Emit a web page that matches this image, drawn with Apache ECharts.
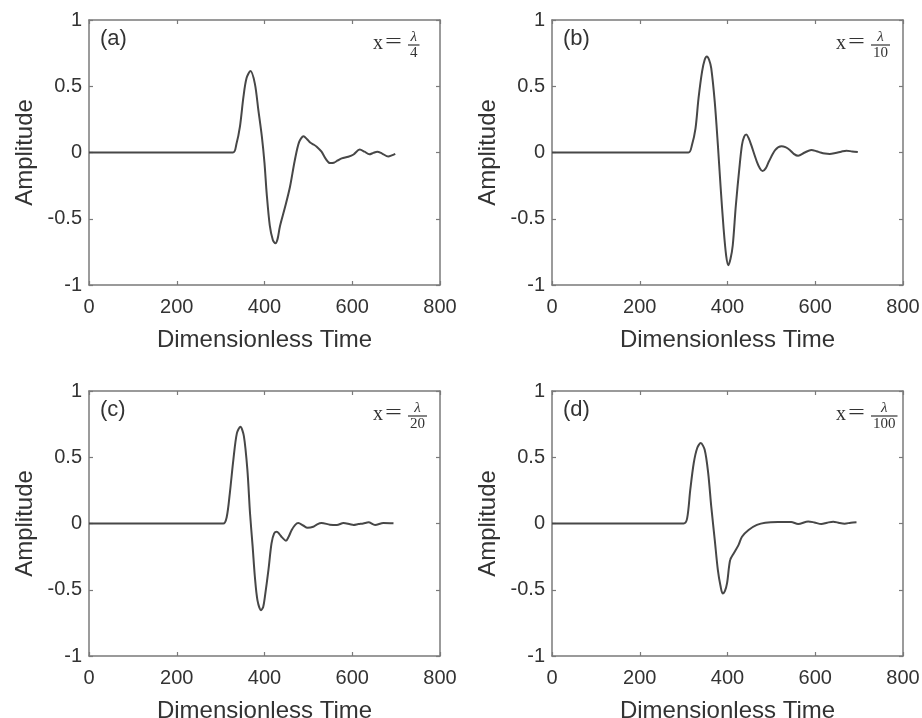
<!DOCTYPE html>
<html><head><meta charset="utf-8">
<script src="https://cdn.jsdelivr.net/npm/echarts@6/dist/echarts.min.js"></script>
<style>html,body{margin:0;padding:0;background:#fff}#c{width:922px;height:718px}</style>
</head><body><div id="c"></div>
<script>
// ---- data ----
const timeA = [0,328,336,344,352,359,368,378,386,394,400,405,412,419,425,430,435,447,458,469,479,489,497,504,512,519,530,540,549,558,567,576,591,603,617,628,639,648,657,668,682,690,698];
const ampA  = [0,0,0.065,0.195,0.42,0.56,0.615,0.52,0.32,0.12,-0.08,-0.31,-0.55,-0.66,-0.685,-0.65,-0.56,-0.41,-0.26,-0.06,0.08,0.122,0.1,0.075,0.06,0.044,0.006,-0.05,-0.08,-0.077,-0.06,-0.044,-0.032,-0.015,0.022,0.006,-0.014,-0.003,0.006,-0.008,-0.03,-0.022,-0.01];

const timeB = [0,311,319,327,334,342,348,353,358,363,371,378,384,391,397,402,407,412,419,427,433,438,443,448,454,467,474,480,487,494,509,523,532,542,551,561,576,591,603,612,622,633,646,659,671,684,697];
const ampB  = [0,0,0.057,0.18,0.41,0.61,0.7,0.725,0.7,0.635,0.38,0.06,-0.245,-0.57,-0.78,-0.85,-0.8,-0.7,-0.4,-0.12,0.057,0.12,0.135,0.11,0.057,-0.07,-0.12,-0.14,-0.12,-0.07,0.019,0.047,0.04,0.019,-0.01,-0.025,0,0.019,0.01,0,-0.008,-0.011,-0.004,0.006,0.014,0.008,0.003];

const timeC = [0,306,314,321,329,337,345,353,361,367,373,378,384,392,397,401,409,416,422,428,434,440,449,455,462,470,477,488,498,511,520,530,549,565,580,595,603,614,625,637,652,671,694];
const ampC  = [0,0,0.051,0.23,0.48,0.68,0.73,0.66,0.405,0.077,-0.175,-0.4,-0.58,-0.654,-0.63,-0.55,-0.35,-0.15,-0.075,-0.062,-0.08,-0.105,-0.13,-0.1,-0.049,-0.01,0.003,-0.015,-0.032,-0.025,-0.006,0.004,-0.009,-0.012,0.004,-0.006,-0.011,-0.004,0,0.009,-0.011,0.004,0.002];

const timeD = [0,300,308,315,323,331,339,348,356,363,371,378,384,389,394,399,406,414,425,433,448,467,486,515,545,561,584,598,614,627,641,655,667,681,694];
const ampD  = [0,0,0.039,0.25,0.455,0.57,0.607,0.556,0.38,0.127,-0.125,-0.35,-0.47,-0.528,-0.51,-0.45,-0.276,-0.226,-0.163,-0.1,-0.049,-0.011,0.006,0.011,0.011,-0.004,0.016,0.008,-0.004,0.006,0.014,0.004,-0.001,0.006,0.009];

const panelLabels = ['(a)','(b)','(c)','(d)'];
const denominators = ['4','10','20','100'];
const xTicks = [0,200,400,600,800];
const yTicks = [-1,-0.5,0,0.5,1];
const xTitle = 'Dimensionless Time';
const yTitle = 'Amplitude';

// ---- layout ----
const times = [timeA,timeB,timeC,timeD];
const amps = [ampA,ampB,ampC,ampD];
const boxes = [{left:89,top:20},{left:552,top:20},{left:89,top:391},{left:552,top:391}];
const W = 351, H = 265;
const SANS = 'Liberation Sans, Arial, sans-serif';
const SERIF = 'Liberation Serif, Times New Roman, serif';
const AX = '#7a7a7a', TXT = '#333', LINE = '#474747';

const grid = [], xAxis = [], yAxis = [], series = [], graphic = [];
const xMin = xTicks[0], xMax = xTicks[xTicks.length-1], xInt = xTicks[1]-xTicks[0];
const yMin = yTicks[0], yMax = yTicks[yTicks.length-1], yInt = yTicks[1]-yTicks[0];

boxes.forEach((b, i) => {
  grid.push({left:b.left, top:b.top, width:W, height:H, containLabel:false, outerBoundsMode:'none'});
  const lineStyle = {color:AX, width:1.5};
  const tick = {show:true, inside:true, length:4, lineStyle:{color:AX, width:1.2}};
  ['bottom','top'].forEach(pos => {
    xAxis.push({
      type:'value', gridIndex:i, position:pos, min:xMin, max:xMax, interval:xInt,
      axisLine:{show:true, onZero:false, lineStyle},
      axisTick:tick, splitLine:{show:false},
      axisLabel:{show:pos==='bottom', color:TXT, fontFamily:SANS, fontSize:20, margin:12},
      name: pos==='bottom' ? xTitle : '', nameLocation:'middle', nameGap:43,
      nameTextStyle:{color:TXT, fontFamily:SANS, fontSize:24}
    });
  });
  ['left','right'].forEach(pos => {
    yAxis.push({
      type:'value', gridIndex:i, position:pos, min:yMin, max:yMax, interval:yInt,
      axisLine:{show:true, onZero:false, lineStyle},
      axisTick:tick, splitLine:{show:false},
      axisLabel:{show:pos==='left', color:TXT, fontFamily:SANS, fontSize:20, margin:7},
      name: pos==='left' ? yTitle : '', nameLocation:'middle', nameGap:52, nameRotate:90,
      nameTextStyle:{color:TXT, fontFamily:SANS, fontSize:24}
    });
  });
  series.push({
    type:'line', xAxisIndex:i*2, yAxisIndex:i*2, showSymbol:false, smooth:0.3,
    lineStyle:{color:LINE, width:2}, animation:false,
    data: times[i].map((t,k)=>[t, amps[i][k]])
  });
  // panel label
  graphic.push({type:'text', left:b.left+11, top:b.top+8,
    style:{text:panelLabels[i], font:'22px '+SANS, fill:TXT}});
  // x = lambda / n annotation
  const fx = b.left+319;
  const dw = denominators[i].length*7.5;
  const len = dw+4;
  graphic.push({type:'text', x:b.left+284, y:b.top+24,
    style:{text:'x', font:'20px '+SERIF, fill:TXT, verticalAlign:'middle', align:'left'}});
  graphic.push({type:'text', x:b.left+296, y:b.top+23, scaleX:1.5,
    style:{text:'=', font:'20px '+SERIF, fill:TXT, verticalAlign:'middle', align:'left'}});
  graphic.push({type:'text', x:fx+len/2, y:b.top+17,
    style:{text:'λ', font:'italic 15px '+SERIF, fill:TXT, verticalAlign:'middle', align:'center'}});
  graphic.push({type:'line', shape:{x1:fx, y1:b.top+25, x2:fx+len, y2:b.top+25},
    style:{stroke:TXT, lineWidth:1.2}});
  graphic.push({type:'text', x:fx+len/2, y:b.top+33,
    style:{text:denominators[i], font:'15px '+SERIF, fill:TXT, verticalAlign:'middle', align:'center'}});
});

const chart = echarts.init(document.getElementById('c'), null, {renderer:'canvas'});
chart.setOption({animation:false, backgroundColor:'#fff', grid, xAxis, yAxis, series, graphic});
</script></body></html>
